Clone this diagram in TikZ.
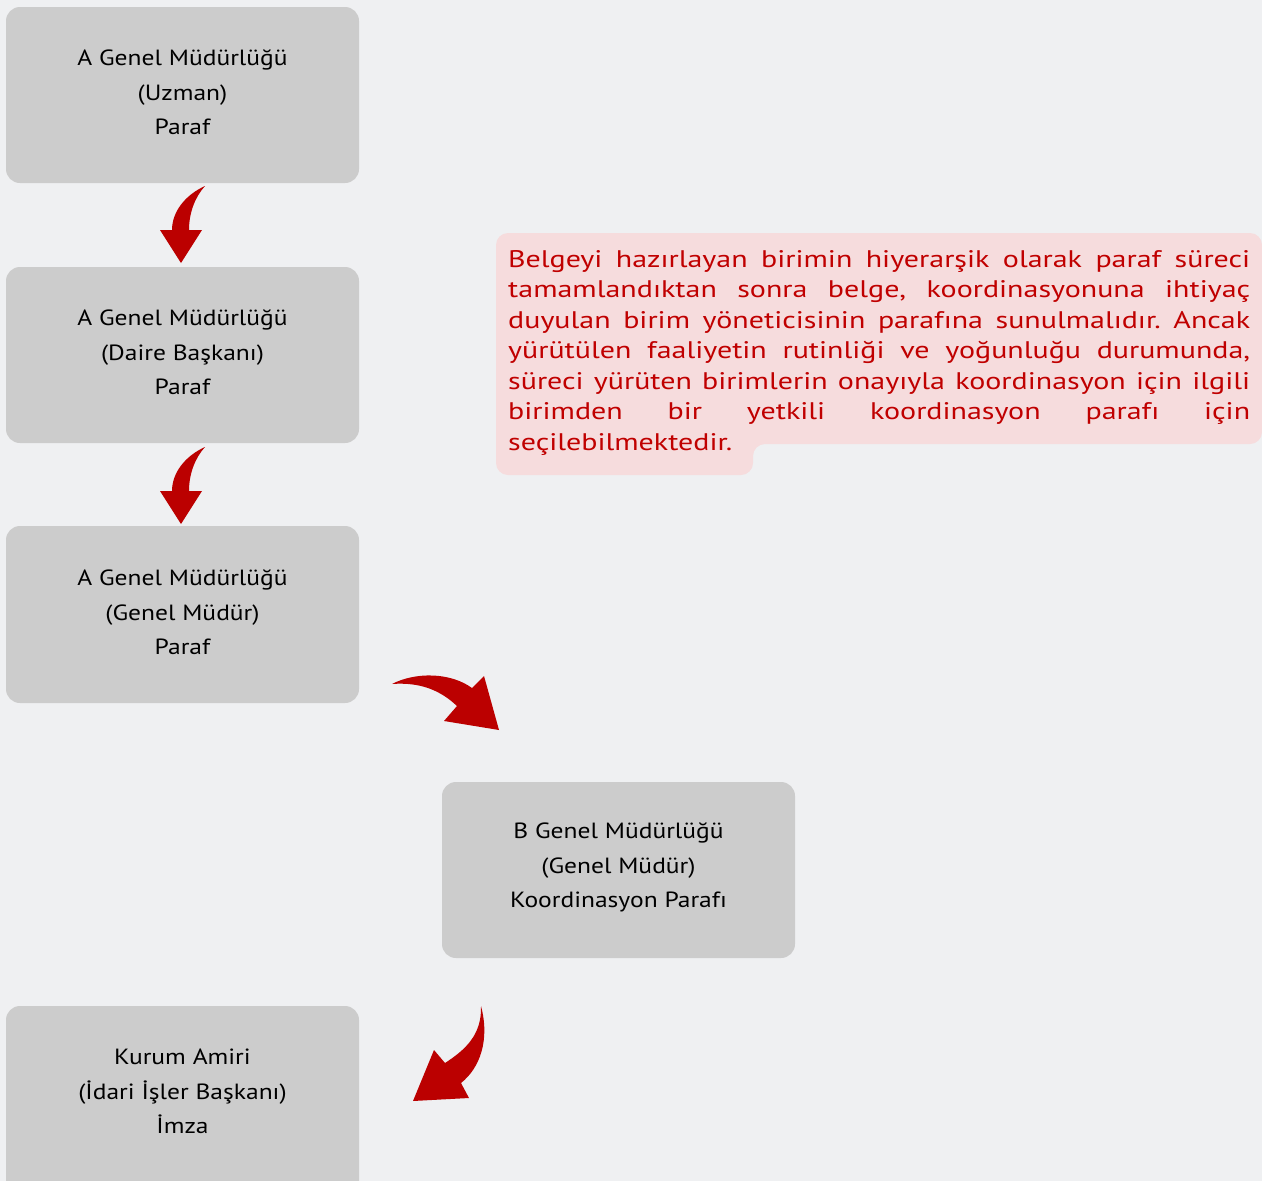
\documentclass[tikz,border=0pt]{standalone}
\usepackage{fontspec}
\setmainfont{PT Sans}
\newfontfamily\boxfont{PT Sans}[FakeStretch=1.16]
\newfontfamily\notefont{PT Sans}[FakeStretch=1.25]
\frenchspacing
\definecolor{bgc}{HTML}{EFF0F2}
\definecolor{boxc}{HTML}{CCCCCC}
\definecolor{notec}{HTML}{F6DCDD}
\definecolor{redc}{HTML}{C00000}
\definecolor{arrc}{HTML}{BB0000}
\tikzset{
  stepbox/.style={fill=boxc, rounded corners=14pt, draw=none},
  boxtext/.style={align=center, text=black, font=\boxfont\fontsize{22}{34.5}\selectfont},
  blockarrow/.style={fill=arrc, draw=none},
}
\newcommand{\jl}[1]{\makebox[742pt][s]{#1}\\}
\begin{document}
\begin{tikzpicture}[x=1pt,y=-1pt]
\fill[bgc] (0,0) rectangle (1262,1181);
\useasboundingbox (0,0) rectangle (1262,1181);
% boxes
\path[stepbox] (6,7) rectangle (359,183);
\node[boxtext] (b1) at (182.5,92.5) {A Genel Müdürlüğü\\(Uzman)\\Paraf};
\path[stepbox] (6,267) rectangle (359,443);
\node[boxtext] (b2) at (182.5,352.5) {A Genel Müdürlüğü\\(Daire Başkanı)\\Paraf};
\path[stepbox] (6,526) rectangle (359,703);
\node[boxtext] (b3) at (182.5,612.5) {A Genel Müdürlüğü\\(Genel Müdür)\\Paraf};
\path[stepbox] (442,782) rectangle (795,958);
\node[boxtext] (b4) at (618.5,867.5) {B Genel Müdürlüğü\\(Genel Müdür)\\Koordinasyon Parafı};
\path[stepbox] (6,1006) rectangle (359,1195);
\node[boxtext] (b5) at (182.5,1091.5) {Kurum Amiri\\(İdari İşler Başkanı)\\İmza};
% note
\fill[notec, rounded corners=12pt] (496,233) -- (1262,233) -- (1262,444) -- (753,444) -- (753,475) -- (496,475) -- cycle;
\node[anchor=north west, inner sep=0pt, text=redc, align=left,
      font=\notefont\fontsize{24}{30.5}\selectfont] (note) at (508,250) {%
\jl{Belgeyi hazırlayan birimin hiyerarşik olarak paraf süreci}
\jl{tamamlandıktan sonra belge, koordinasyonuna ihtiyaç}
\jl{duyulan birim yöneticisinin parafına sunulmalıdır. Ancak}
\jl{yürütülen faaliyetin rutinliği ve yoğunluğu durumunda,}
\jl{süreci yürüten birimlerin onayıyla koordinasyon için ilgili}
\jl{birimden bir yetkili koordinasyon parafı için}
seçilebilmektedir.};
% arrows
\fill[blockarrow] (205,186) .. controls (185,195) and (172,212) .. (172,230) -- (160,230) -- (181,263) -- (202,230) -- (189,230) .. controls (189,213) and (195,197) .. (205,186) -- cycle;
\begin{scope}[yshift=-261pt]
\fill[blockarrow] (205,186) .. controls (185,195) and (172,212) .. (172,230) -- (160,230) -- (181,263) -- (202,230) -- (189,230) .. controls (189,213) and (195,197) .. (205,186) -- cycle;
\end{scope}
\fill[blockarrow] (392,684) .. controls (415,672) and (450,672) .. (472,688) -- (484,676) -- (499,730) -- (444,721) -- (457,706) .. controls (440,690) and (420,682) .. (392,684) -- cycle;
\fill[blockarrow] (481,1006) .. controls (490,1040) and (480,1068) .. (461,1083) -- (469,1098) -- (413,1101) -- (434,1050) -- (445,1063) .. controls (465,1050) and (482,1035) .. (481,1006) -- cycle;
\end{tikzpicture}
\end{document}
